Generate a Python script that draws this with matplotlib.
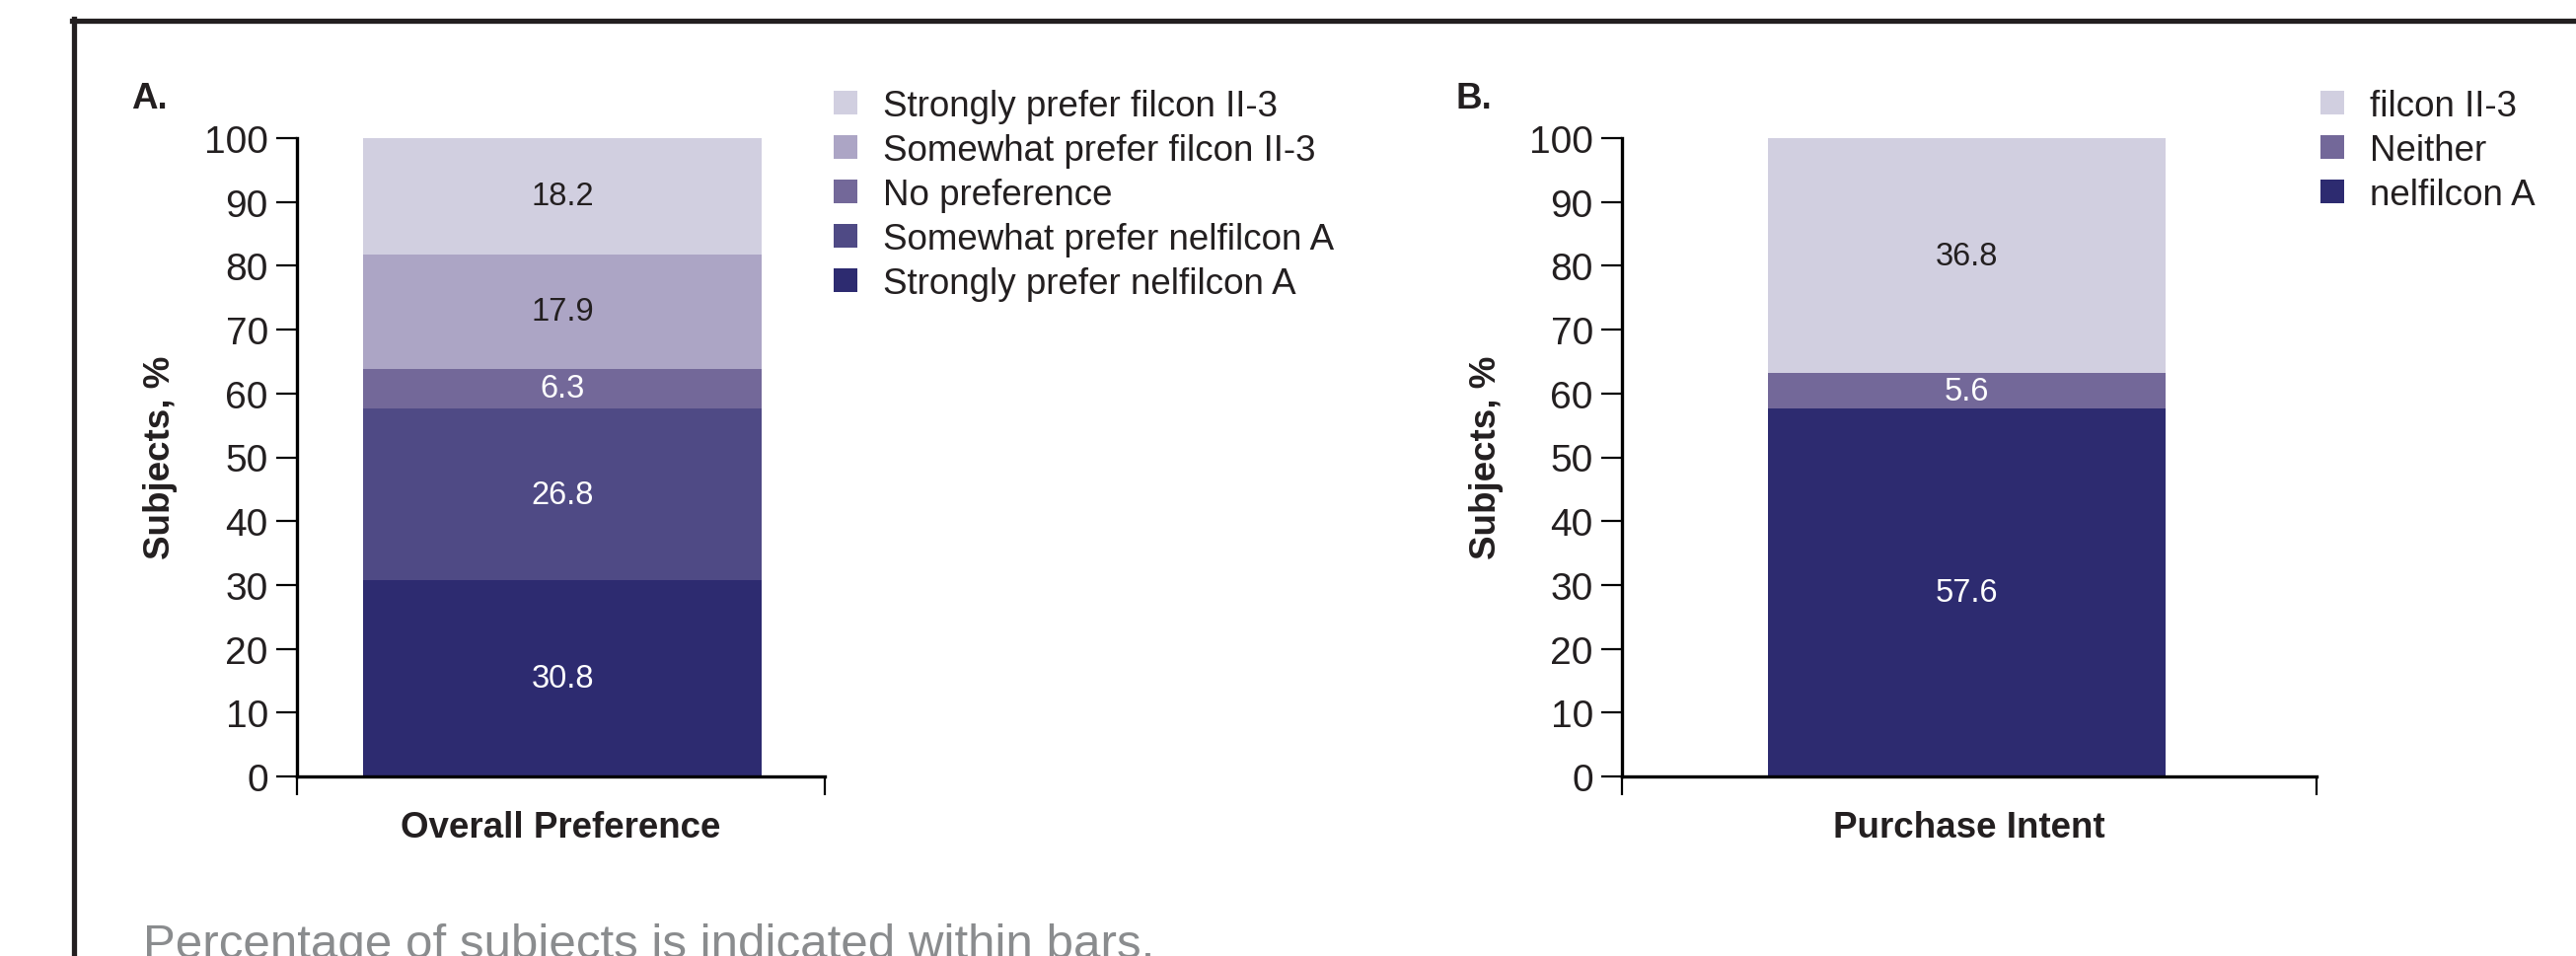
import matplotlib
matplotlib.use("Agg")
import matplotlib.pyplot as plt
from matplotlib.patches import Patch
from matplotlib.lines import Line2D

plt.rcParams['font.family'] = ['Liberation Sans', 'DejaVu Sans']

# panel A: overall preference, stacked bottom -> top
pref_labels = ["Strongly prefer nelfilcon A", "Somewhat prefer nelfilcon A", "No preference",
               "Somewhat prefer filcon II-3", "Strongly prefer filcon II-3"]
pref_values = [30.8, 26.8, 6.3, 17.9, 18.2]
pref_colors = ["#2d2b70", "#4f4a85", "#736899", "#aca5c5", "#d1cfe0"]
pref_text = ["white", "white", "white", "#231f20", "#231f20"]

# panel B: purchase intent, stacked bottom -> top
intent_labels = ["nelfilcon A", "Neither", "filcon II-3"]
intent_values = [57.6, 5.6, 36.8]
intent_colors = ["#2d2b70", "#736899", "#d1cfe0"]
intent_text = ["white", "white", "#231f20"]

yticks = [0, 10, 20, 30, 40, 50, 60, 70, 80, 90, 100]
ink = "#231f20"
W, H = 2611, 970

fig = plt.figure(figsize=(W / 100, H / 100), dpi=100)


def px_axes(left, right, top, bottom):
    return fig.add_axes([left / W, 1 - bottom / H, (right - left) / W, (bottom - top) / H])


def stacked(ax, values, colors, tcolors, xlim, xlabel):
    base = 0
    for v, c, tc in zip(values, colors, tcolors):
        ax.bar(0, v, width=1, bottom=base, color=c, edgecolor='none')
        ax.text(0, base + v / 2, f"{v:.1f}", ha='center', va='center', fontsize=23.5, color=tc)
        base += v
    ax.set_xlim(*xlim)
    ax.set_ylim(0, 100)
    ax.set_yticks(yticks)
    ax.set_xticks(list(xlim))
    ax.set_xticklabels(["", ""])
    for s in ['top', 'right']:
        ax.spines[s].set_visible(False)
    for s in ['left', 'bottom']:
        ax.spines[s].set_linewidth(2.4)
        ax.spines[s].set_color('black')
    ax.tick_params(axis='y', length=15, width=1.6, labelsize=28, pad=6, colors=ink, color='black')
    ax.tick_params(axis='x', length=14, width=1.6, color='black')
    ax.set_xlabel(xlabel, fontsize=26.5, fontweight='bold', color=ink, va='top')
    ax.xaxis.set_label_coords(0.5, -0.052)


axA = px_axes(301, 836, 141, 788)
stacked(axA, pref_values, pref_colors, pref_text, (-0.666, 0.658), "Overall Preference")

axB = px_axes(1644, 2348, 141, 788)
stacked(axB, intent_values, intent_colors, intent_text, (-0.866, 0.879), "Purchase Intent")

# y labels
fig.text(163 / W, 1 - 464 / H, "Subjects, %", rotation=90, ha='center', va='center',
         fontsize=26.5, fontweight='bold', color=ink)
fig.text(1507 / W, 1 - 464 / H, "Subjects, %", rotation=90, ha='center', va='center',
         fontsize=26.5, fontweight='bold', color=ink)

# panel letters
fig.text(133 / W, 1 - 110 / H, "A.", ha='left', va='baseline', fontsize=26.5, fontweight='bold', color=ink)
fig.text(1476 / W, 1 - 110 / H, "B.", ha='left', va='baseline', fontsize=26.5, fontweight='bold', color=ink)

# legends (top -> bottom order)
legend_kw = dict(loc='upper left', frameon=False, fontsize=26.5, handlelength=0.65, handleheight=0.65,
                 handletextpad=0.7, labelspacing=0.27, borderpad=0, borderaxespad=0, labelcolor=ink)
hA = [Patch(facecolor=c, edgecolor='none', label=l) for l, c in zip(pref_labels[::-1], pref_colors[::-1])]
fig.legend(handles=hA, bbox_to_anchor=(845 / W, 1 - 91 / H), **legend_kw)
hB = [Patch(facecolor=c, edgecolor='none', label=l) for l, c in zip(intent_labels[::-1], intent_colors[::-1])]
fig.legend(handles=hB, bbox_to_anchor=(2352 / W, 1 - 91 / H), **legend_kw)

# caption, cut at the bottom edge like the source
fig.text(145 / W, 1 - 971 / H, "Percentage of subjects is indicated within bars.", ha='left',
         va='baseline', fontsize=35.5, color="#8a8c8e")

# frame lines
fig.add_artist(Line2D([73 / W, 1.0], [1 - 22 / H, 1 - 22 / H], transform=fig.transFigure,
                      color=ink, linewidth=3.8))
fig.add_artist(Line2D([75 / W, 75 / W], [1 - 20 / H, 0.0], transform=fig.transFigure,
                      color=ink, linewidth=3.8))

fig.savefig("out.png", dpi=100)
